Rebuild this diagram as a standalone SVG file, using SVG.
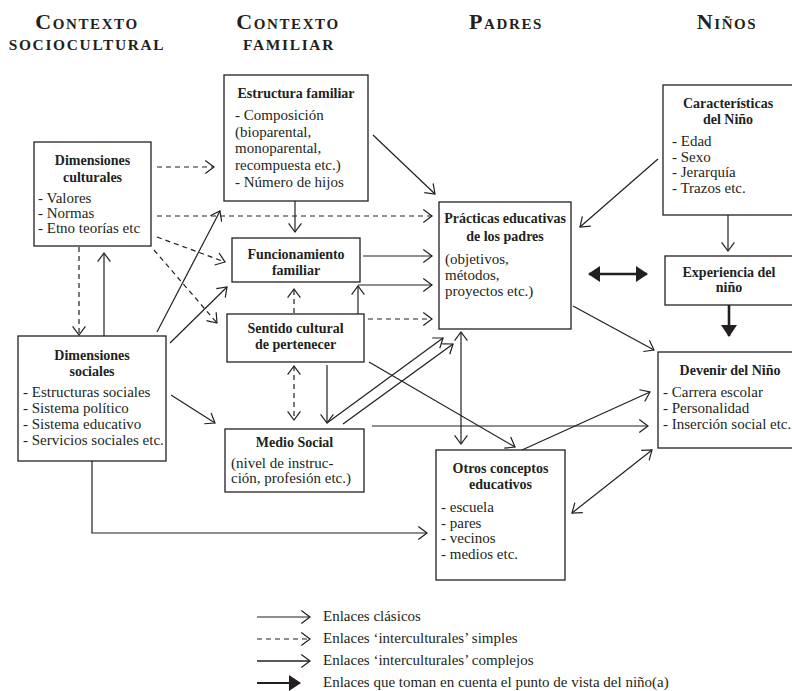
<svg xmlns="http://www.w3.org/2000/svg" width="792" height="691" viewBox="0 0 792 691">
<defs>
<style>
text{font-family:"Liberation Serif","Times New Roman",serif;fill:#231f20;font-size:15px}
.h{font-size:22px;font-weight:bold;font-variant:small-caps;letter-spacing:1.6px;text-anchor:middle}
.h2{font-size:15.4px;font-weight:bold;text-transform:uppercase;letter-spacing:1.7px;text-anchor:middle}
.t{font-weight:bold;text-anchor:middle;font-size:14px}
.box{fill:#fff;stroke:#231f20;stroke-width:1.3}
.c line,.c path,.c polyline,.lg line{stroke:#231f20;stroke-width:1.2;fill:none}
.d{stroke-dasharray:5 4}
.a{marker-end:url(#ah)}
.b{marker-start:url(#ah);marker-end:url(#ah)}
.k{stroke-width:2.6 !important}
</style>
<marker id="ah" markerUnits="userSpaceOnUse" viewBox="0 0 10 14" refX="9.3" refY="7" markerWidth="10" markerHeight="14" orient="auto-start-reverse" overflow="visible">
<path d="M0.6,0.6 L9.3,7 L0.6,13.4" fill="none" stroke="#231f20" stroke-width="1.2"/>
</marker>
<marker id="fh" markerUnits="userSpaceOnUse" viewBox="0 0 12 16" refX="11" refY="8" markerWidth="12" markerHeight="16" orient="auto-start-reverse" overflow="visible">
<path d="M0,0 L12,8 L0,16 Z" fill="#231f20"/>
</marker>
</defs>
<rect width="792" height="691" fill="#fff"/>

<g id="headers">
<text class="h" x="87" y="29">Contexto</text>
<text class="h2" x="87" y="50">sociocultural</text>
<text class="h" x="288" y="29">Contexto</text>
<text class="h2" x="289" y="50">familiar</text>
<text class="h" x="506" y="29">Padres</text>
<text class="h" x="727" y="29">Niños</text>
</g>

<g class="c" id="connectors">
<line class="d a" x1="157" y1="167" x2="214" y2="167"/>
<line class="d a" x1="157" y1="216" x2="432" y2="216"/>
<line class="d a" x1="157" y1="237" x2="225" y2="262"/>
<line class="d a" x1="154" y1="250" x2="217" y2="323"/>
<line class="d a" x1="79" y1="247" x2="79" y2="335"/>
<line class="a" x1="104" y1="336" x2="104" y2="253"/>
<line class="a" x1="157" y1="332" x2="220" y2="211"/>
<line class="a" x1="170" y1="343" x2="227" y2="287"/>
<line class="a" x1="171" y1="395" x2="215" y2="423"/>
<polyline class="a" points="92,461 92,533 427,533"/>
<line class="a" x1="295" y1="201" x2="295" y2="232"/>
<line class="a" x1="373" y1="135" x2="435" y2="194"/>
<line class="a" x1="363" y1="256" x2="432" y2="256"/>
<line class="a" x1="358" y1="314" x2="358" y2="286"/>
<line class="a" x1="358" y1="285" x2="432" y2="285"/>
<line class="d a" x1="368" y1="319" x2="432" y2="319"/>
<line class="d a" x1="294" y1="313" x2="294" y2="289"/>
<line class="d b" x1="294" y1="366" x2="294" y2="420"/>
<line class="a" x1="327" y1="365" x2="327" y2="423"/>
<line class="a" x1="327" y1="423" x2="443" y2="338"/>
<line class="a" x1="343" y1="424" x2="453" y2="344"/>
<line class="a" x1="369" y1="362" x2="515" y2="447"/>
<line class="b" x1="461" y1="332" x2="461" y2="444"/>
<line class="a" x1="372" y1="426" x2="648" y2="426"/>
<line class="a" x1="522" y1="450" x2="650" y2="392"/>
<line class="b" x1="572" y1="513" x2="652" y2="450"/>
<line class="a" x1="573" y1="306" x2="654" y2="350"/>
<line class="k" x1="589" y1="274" x2="647" y2="274" style="marker-start:url(#fh);marker-end:url(#fh)"/>
<line class="k" x1="729" y1="305" x2="729" y2="336" style="marker-end:url(#fh)"/>
<line class="a" x1="728" y1="215" x2="728" y2="251"/>
<line class="a" x1="658" y1="159" x2="580" y2="227"/>
</g>

<g id="dimensiones-culturales">
<rect class="box" x="34" y="142" width="117" height="104"/>
<text class="t" x="92.5" y="165">Dimensiones</text>
<text class="t" x="92.5" y="182">culturales</text>
<text x="38" y="203">- Valores</text>
<text x="38" y="218">- Normas</text>
<text x="38" y="233">- Etno teorías etc</text>
</g>

<g id="dimensiones-sociales">
<rect class="box" x="18" y="336" width="148" height="125"/>
<text class="t" x="92" y="360">Dimensiones</text>
<text class="t" x="92" y="376">sociales</text>
<text x="23" y="397">- Estructuras sociales</text>
<text x="23" y="413">- Sistema político</text>
<text x="23" y="429">- Sistema educativo</text>
<text x="23" y="445">- Servicios sociales etc.</text>
</g>

<g id="estructura-familiar">
<rect class="box" x="224" y="75" width="144" height="126"/>
<text class="t" x="296" y="98">Estructura familiar</text>
<text x="235" y="120">- Composición</text>
<text x="235" y="137">(bioparental,</text>
<text x="235" y="153">monoparental,</text>
<text x="235" y="170">recompuesta etc.)</text>
<text x="235" y="187">- Número de hijos</text>
</g>

<g id="funcionamiento-familiar">
<rect class="box" x="232" y="238" width="128" height="44"/>
<text class="t" x="296" y="259">Funcionamiento</text>
<text class="t" x="296" y="275">familiar</text>
</g>

<g id="sentido-cultural">
<rect class="box" x="227" y="314" width="137" height="48"/>
<text class="t" x="295.5" y="333">Sentido cultural</text>
<text class="t" x="295.5" y="349">de pertenecer</text>
</g>

<g id="medio-social">
<rect class="box" x="225" y="429" width="139" height="63"/>
<text class="t" x="294.5" y="447">Medio Social</text>
<text x="231" y="468">(nivel de instruc-</text>
<text x="231" y="483">ción, profesión etc.)</text>
</g>

<g id="practicas-educativas">
<rect class="box" x="439" y="202" width="132" height="127"/>
<text class="t" x="505" y="223">Prácticas educativas</text>
<text class="t" x="505" y="241">de los padres</text>
<text x="445" y="264">(objetivos,</text>
<text x="445" y="280">métodos,</text>
<text x="445" y="296">proyectos etc.)</text>
</g>

<g id="otros-conceptos">
<rect class="box" x="436" y="450" width="129" height="130"/>
<text class="t" x="500.5" y="473">Otros conceptos</text>
<text class="t" x="500.5" y="489">educativos</text>
<text x="441" y="512">- escuela</text>
<text x="441" y="528">- pares</text>
<text x="441" y="543">- vecinos</text>
<text x="441" y="559">- medios etc.</text>
</g>

<g id="caracteristicas-nino">
<rect class="box" x="663" y="85" width="132" height="130"/>
<text class="t" x="728" y="108">Características</text>
<text class="t" x="728" y="124">del Niño</text>
<text x="672" y="146">- Edad</text>
<text x="672" y="162">- Sexo</text>
<text x="672" y="177">- Jerarquía</text>
<text x="672" y="193">- Trazos etc.</text>
</g>

<g id="experiencia-nino">
<rect class="box" x="665" y="256" width="130" height="49"/>
<text class="t" x="729" y="277">Experiencia del</text>
<text class="t" x="729" y="292">niño</text>
</g>

<g id="devenir-nino">
<rect class="box" x="658" y="352" width="137" height="96"/>
<text class="t" x="730" y="375">Devenir del Niño</text>
<text x="663" y="397">- Carrera escolar</text>
<text x="663" y="413">- Personalidad</text>
<text x="663" y="429">- Inserción social etc.</text>
</g>

<g id="legend" class="lg">
<line class="a" x1="257" y1="617" x2="310" y2="617"/>
<text x="323" y="621">Enlaces clásicos</text>
<line class="d a" x1="257" y1="639" x2="310" y2="639"/>
<text x="323" y="643">Enlaces ‘interculturales’ simples</text>
<line class="a" x1="257" y1="661" x2="310" y2="661" style="stroke-width:1.5"/>
<text x="323" y="665">Enlaces ‘interculturales’ complejos</text>
<line x1="257" y1="683" x2="300" y2="683" style="stroke-width:2.2;marker-end:url(#fh)"/>
<text x="323" y="687">Enlaces que toman en cuenta el punto de vista del niño(a)</text>
</g>
</svg>
